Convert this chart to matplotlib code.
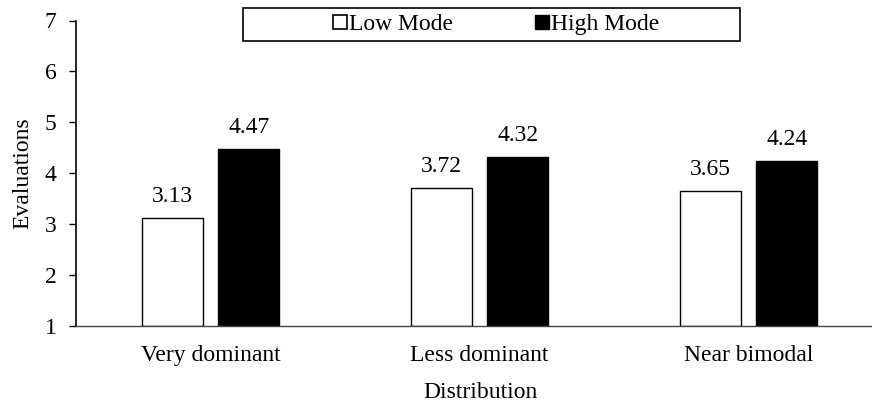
import numpy as np
import matplotlib.pyplot as plt
from matplotlib.lines import Line2D
from matplotlib.patches import Rectangle

# 분포 유형별 평가 점수 (Low / High mode)
categories = ['Very dominant', 'Less dominant', 'Near bimodal']
low_mode = [3.13, 3.72, 3.65]
high_mode = [4.47, 4.32, 4.24]
y_ticks = [1, 2, 3, 4, 5, 6, 7]

FS = 17
plt.rcParams['font.family'] = ['Liberation Serif', 'DejaVu Serif']
plt.rcParams['font.size'] = FS

fig = plt.figure(figsize=(8.72, 4.05), dpi=100)
ax = fig.add_axes([76 / 872, 1 - 326 / 405, 807 / 872, 305.5 / 405])

x = np.arange(len(categories))
w = 0.225
off = 0.142
ax.bar(x - off, np.array(low_mode) - 1, w, bottom=1, color='white',
       edgecolor='black', linewidth=1.0)
ax.bar(x + off, np.array(high_mode) - 1, w, bottom=1, color='black',
       edgecolor='black', linewidth=1.0)

# 막대 위에 값 표시
for xs, vals in ((x - off, low_mode), (x + off, high_mode)):
    for xi, v in zip(xs, vals):
        ax.annotate('%.2f' % v, (xi, v), xytext=(0, 11.5), textcoords='offset points',
                    ha='center', va='baseline', fontsize=FS)

ax.set_xlim(-0.5, 2.5)
ax.set_ylim(1, 7)
ax.set_yticks(y_ticks)
ax.set_xticks(x)
ax.set_xticklabels(categories)
ax.tick_params(axis='x', length=0, pad=14)
ax.tick_params(axis='y', length=5, width=1, direction='out', pad=9)

for s in ('top', 'right'):
    ax.spines[s].set_visible(False)
ax.spines['left'].set_linewidth(1.2)
ax.spines['bottom'].set_linewidth(1.0)
ax.spines['bottom'].set_color('#444444')

ax.set_ylabel('Evaluations', fontsize=FS, labelpad=8)
fig.text(480 / 872, 1 - 393 / 405, 'Distribution', ha='center', va='center', fontsize=FS)

# 범례 테두리
fig.patches.append(Rectangle((243 / 872, 1 - 41 / 405), 497 / 872, 33 / 405,
                             transform=fig.transFigure, facecolor='white',
                             edgecolor='black', linewidth=1.2, zorder=5))

handles = [
    Line2D([], [], marker='s', linestyle='none', markersize=9.5,
           markerfacecolor='white', markeredgecolor='black', markeredgewidth=1.2),
    Line2D([], [], marker='s', linestyle='none', markersize=9.5,
           markerfacecolor='black', markeredgecolor='black'),
]
leg = fig.legend(handles, ['Low Mode', 'High Mode'], loc='center', ncol=2,
                 bbox_to_anchor=(496 / 872, 1 - 24.5 / 405),
                 frameon=False, handlelength=0.6, handletextpad=0.05,
                 columnspacing=3.5, borderpad=0, fontsize=FS)
leg.set_zorder(6)

fig.savefig('out.png', dpi=100)
